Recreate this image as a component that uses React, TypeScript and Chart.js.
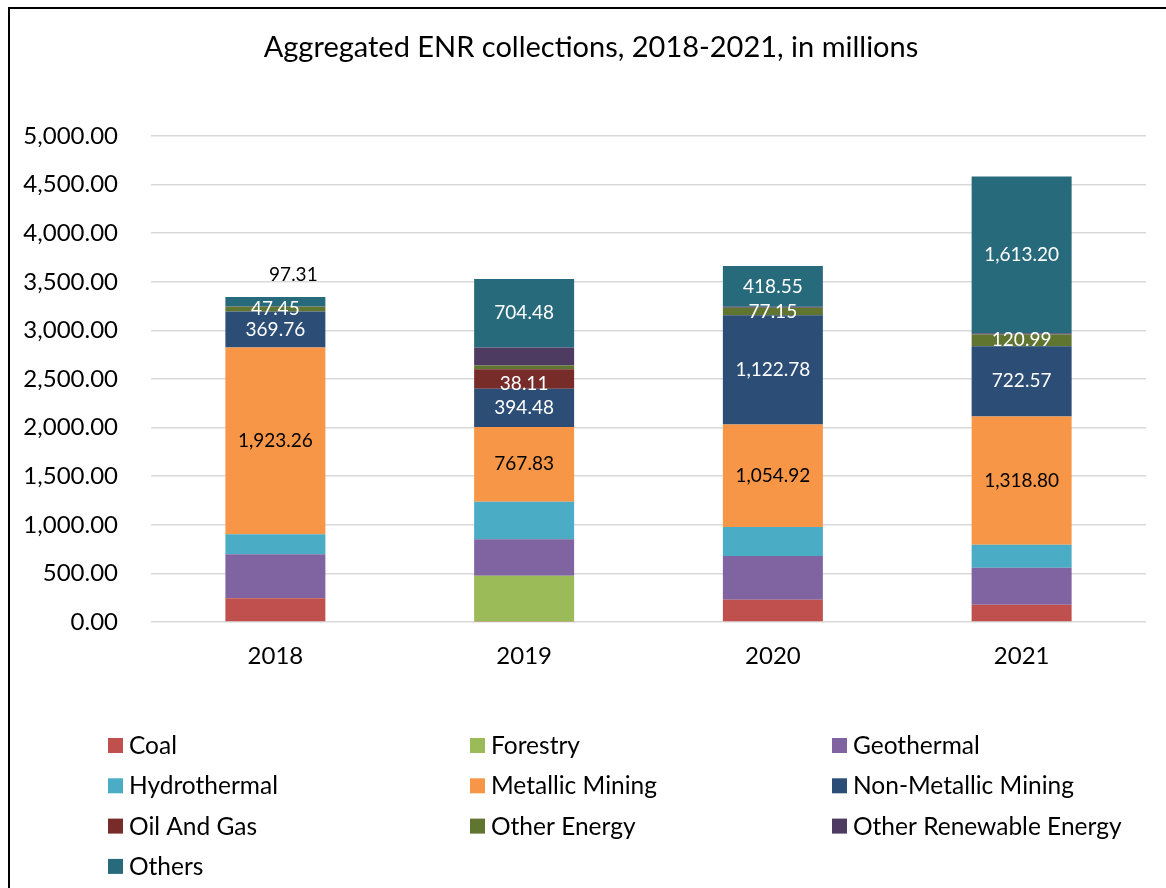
import React, { useEffect, useRef } from "react";
import { Chart, registerables } from "chart.js";

Chart.register(...registerables);

const TITLE = "Aggregated ENR collections, 2018-2021, in millions";
const YEARS = ["2018", "2019", "2020", "2021"];

const SERIES_NAMES = [
  "Coal",
  "Forestry",
  "Geothermal",
  "Hydrothermal",
  "Metallic Mining",
  "Non-Metallic Mining",
  "Oil And Gas",
  "Other Energy",
  "Other Renewable Energy",
  "Others",
];

const coal = [244, 5, 230, 178];
const forestry = [0, 471, 0, 0];
const geothermal = [453, 375, 449, 381];
const hydrothermal = [205, 387, 299, 237];
const metallicMining = [1923.26, 767.83, 1054.92, 1318.8];
const nonMetallicMining = [369.76, 394.48, 1122.78, 722.57];
const oilAndGas = [0, 200, 0, 0];
const otherEnergy = [47.45, 38.11, 77.15, 120.99];
const otherRenewable = [3, 186, 10, 12];
const others = [97.31, 704.48, 418.55, 1613.2];

const SERIES_VALUES = [
  coal,
  forestry,
  geothermal,
  hydrothermal,
  metallicMining,
  nonMetallicMining,
  oilAndGas,
  otherEnergy,
  otherRenewable,
  others,
];

const COLORS = [
  "#C0504D",
  "#9BBB59",
  "#8064A2",
  "#4BACC6",
  "#F79646",
  "#2C4D75",
  "#772C2A",
  "#5F7530",
  "#4D3B62",
  "#276A7C",
];

// which series carry data labels, and their text colour
const LABELLED = [false, false, false, false, true, true, false, true, false, true];
const LABEL_COLORS = ["#000", "#000", "#000", "#000", "#000", "#fff", "#fff", "#fff", "#fff", "#fff"];

const Y_TICKS_MAX = 5000;
const Y_STEP = 500;

const FONT = "Lato, 'Open Sans', sans-serif";

const fmt = (v: number) =>
  v.toLocaleString("en-US", { minimumFractionDigits: 2, maximumFractionDigits: 2 });

// manual label nudges (dataset index - data index -> [dx, dy, color])
const LABEL_NUDGES: Record<string, [number, number, string | null]> = {
  "9-0": [18, -27, "#000"],
  "7-1": [0, 16, null],
};

const labelPlugin = {
  id: "segLabels",
  afterDatasetsDraw(chart: any) {
    const ctx = chart.ctx;
    ctx.save();
    ctx.font = `19px ${FONT}`;
    ctx.textAlign = "center";
    ctx.textBaseline = "middle";
    chart.data.datasets.forEach((ds: any, di: number) => {
      if (!LABELLED[di]) return;
      const meta = chart.getDatasetMeta(di);
      meta.data.forEach((bar: any, i: number) => {
        const v = ds.data[i];
        if (!v) return;
        const nudge = LABEL_NUDGES[`${di}-${i}`];
        const cy = (bar.y + bar.base) / 2 + (nudge ? nudge[1] : 0);
        const cx = bar.x + (nudge ? nudge[0] : 0);
        ctx.fillStyle = nudge && nudge[2] ? nudge[2] : LABEL_COLORS[di];
        ctx.fillText(fmt(v), cx, cy);
      });
    });
    ctx.restore();
  },
};

const titleLegendPlugin = {
  id: "titleLegend",
  afterDraw(chart: any) {
    const ctx = chart.ctx;
    ctx.save();
    // title
    ctx.fillStyle = "#000";
    ctx.font = `29px ${FONT}`;
    ctx.textAlign = "center";
    ctx.textBaseline = "middle";
    ctx.fillText(TITLE, chart.width / 2 + 3, 39);
    // legend in 3 columns
    ctx.font = `24.5px ${FONT}`;
    ctx.textAlign = "left";
    const colX = [98, 460, 822];
    const rowY0 = chart.chartArea.bottom + 123;
    const rowH = 40.3;
    chart.data.datasets.forEach((ds: any, i: number) => {
      const col = i % 3;
      const row = Math.floor(i / 3);
      const x = colX[col];
      const y = rowY0 + row * rowH;
      ctx.fillStyle = ds.backgroundColor;
      ctx.fillRect(x, y - 7, 15, 15);
      ctx.fillStyle = "#000";
      ctx.fillText(ds.label, x + 21, y + 1);
    });
    ctx.restore();
  },
};

export default function App() {
  const ref = useRef<HTMLCanvasElement | null>(null);

  useEffect(() => {
    if (!ref.current) return;
    const chart = new Chart(ref.current, {
      type: "bar",
      data: {
        labels: YEARS,
        datasets: SERIES_NAMES.map((name, i) => ({
          label: name,
          data: SERIES_VALUES[i],
          backgroundColor: COLORS[i],
          borderWidth: 0,
          barPercentage: 0.402,
          categoryPercentage: 1,
        })),
      },
      options: {
        animation: false,
        responsive: false,
        maintainAspectRatio: false,
        layout: { padding: { top: 127, left: 0, right: 20, bottom: 196 } },
        plugins: {
          legend: { display: false },
          title: { display: false },
          tooltip: { enabled: false },
        },
        scales: {
          x: {
            stacked: true,
            grid: { display: false, drawTicks: false },
            border: { display: false },
            ticks: { color: "#000", font: { family: FONT, size: 24 }, padding: 20 },
            afterFit: (s: any) => {
              s.height = 70;
            },
          },
          y: {
            stacked: true,
            min: 0,
            max: Y_TICKS_MAX,
            grid: { color: "#d9d9d9", lineWidth: 1.5, drawTicks: false },
            border: { display: false },
            ticks: {
              stepSize: Y_STEP,
              color: "#000",
              font: { family: FONT, size: 24 },
              padding: 33,
              callback: (v: any) => fmt(Number(v)),
            },
            afterFit: (s: any) => {
              s.width = 141;
            },
          },
        },
      },
      plugins: [labelPlugin, titleLegendPlugin],
    });
    return () => chart.destroy();
  }, []);

  return (
    <div
      style={{
        position: "fixed",
        left: 8,
        top: 7,
        width: 1158,
        height: 881,
        borderLeft: "2px solid #000",
        borderTop: "2px solid #000",
        background: "#fff",
        overflow: "hidden",
      }}
    >
      <canvas ref={ref} width={1156} height={879} style={{ display: "block", width: 1156, height: 879 }} />
    </div>
  );
}
